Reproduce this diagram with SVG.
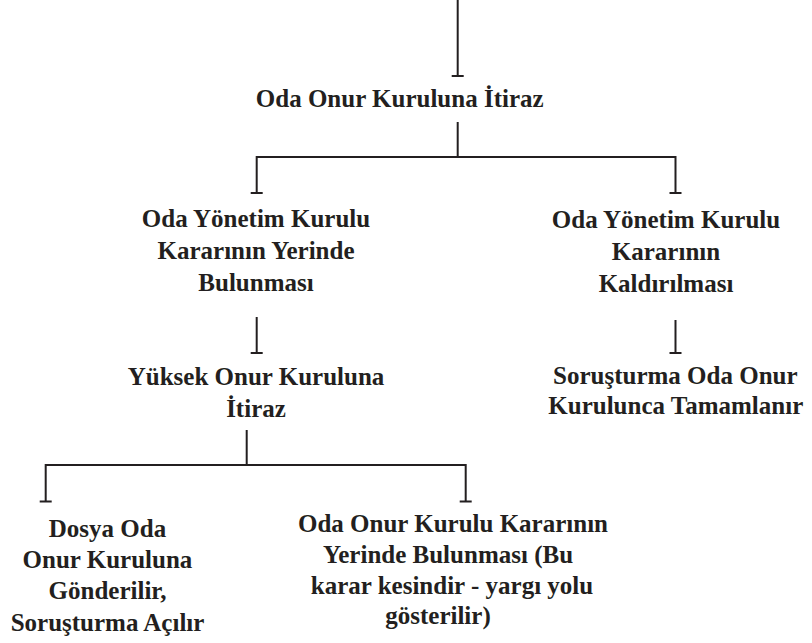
<svg xmlns="http://www.w3.org/2000/svg" width="812" height="643" viewBox="0 0 812 643">
<style>
  .lbl { font-family: "Liberation Serif", "Times New Roman", serif; font-weight: bold; font-size: 25px; fill: #231f20; text-anchor: middle; }
  .conn { fill: none; stroke: #231f20; stroke-width: 2; }
</style>
<defs>
  <marker id="tee" viewBox="-7 -7 14 14" markerWidth="14" markerHeight="14" refX="0" refY="0" markerUnits="userSpaceOnUse" orient="auto">
    <path d="M0,-6 V6" stroke="#231f20" stroke-width="2" fill="none"/>
  </marker>
</defs>
<rect width="812" height="643" fill="#ffffff"/>
<g id="connectors">
  <path class="conn" d="M457.7,0 V76" marker-end="url(#tee)"/>
  <path class="conn" d="M457.7,122 V157"/>
  <path class="conn" d="M256.7,193 V157 H675.5 V193" marker-start="url(#tee)" marker-end="url(#tee)"/>
  <path class="conn" d="M256.7,317 V353" marker-end="url(#tee)"/>
  <path class="conn" d="M675.5,320 V353" marker-end="url(#tee)"/>
  <path class="conn" d="M246.7,430 V465"/>
  <path class="conn" d="M45.7,501.5 V465 H465.7 V501.5" marker-start="url(#tee)" marker-end="url(#tee)"/>
</g>
<g id="n1">
  <text class="lbl" x="399.7" y="107">Oda Onur Kuruluna İtiraz</text>
</g>
<g id="n2l">
  <text class="lbl" x="256" y="227">Oda Yönetim Kurulu</text>
  <text class="lbl" x="256" y="259">Kararının Yerinde</text>
  <text class="lbl" x="256" y="291">Bulunması</text>
</g>
<g id="n2r">
  <text class="lbl" x="666" y="228">Oda Yönetim Kurulu</text>
  <text class="lbl" x="666" y="260">Kararının</text>
  <text class="lbl" x="666" y="292">Kaldırılması</text>
</g>
<g id="n3l">
  <text class="lbl" x="256" y="385">Yüksek Onur Kuruluna</text>
  <text class="lbl" x="256" y="417">İtiraz</text>
</g>
<g id="n3r">
  <text class="lbl" x="675.3" y="383.5">Soruşturma Oda Onur</text>
  <text class="lbl" x="675.8" y="414">Kurulunca Tamamlanır</text>
</g>
<g id="n4l">
  <text class="lbl" x="107.5" y="537">Dosya Oda</text>
  <text class="lbl" x="107.5" y="568">Onur Kuruluna</text>
  <text class="lbl" x="107.5" y="599">Gönderilir,</text>
  <text class="lbl" x="107.5" y="631">Soruşturma Açılır</text>
</g>
<g id="n4r">
  <text class="lbl" x="453" y="532">Oda Onur Kurulu Kararının</text>
  <text class="lbl" x="448" y="563">Yerinde Bulunması (Bu</text>
  <text class="lbl" x="452" y="594">karar kesindir - yargı yolu</text>
  <text class="lbl" x="438" y="624">gösterilir)</text>
</g>
</svg>
